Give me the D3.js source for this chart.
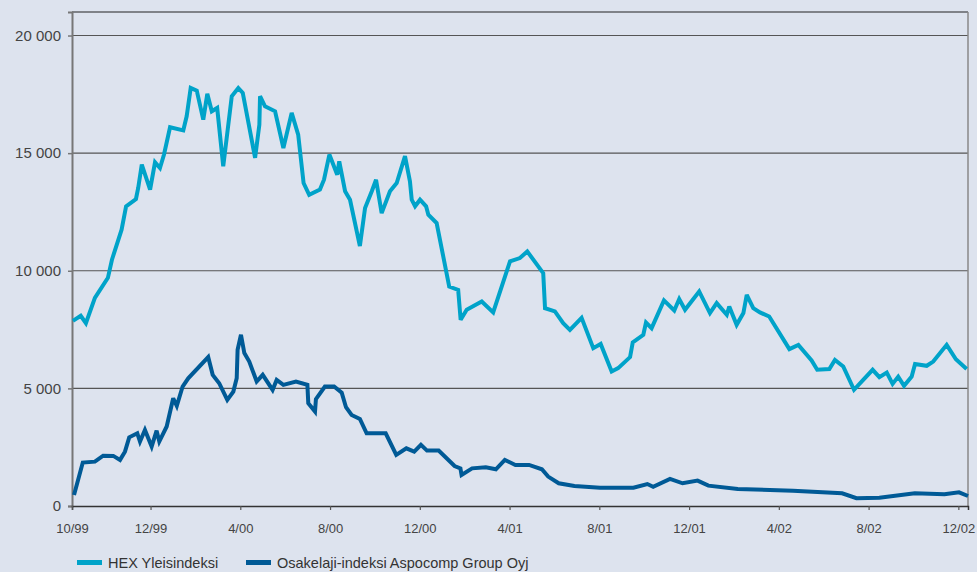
<!DOCTYPE html>
<html><head><meta charset="utf-8">
<script src="https://cdn.jsdelivr.net/npm/d3@7"></script>
<style>
html,body{margin:0;padding:0;background:#dde3ee;}
svg{display:block;font-family:"Liberation Sans",Arial,sans-serif;}
</style></head>
<body><svg id="c" width="977" height="572"></svg>
<script>
// x in axis units (10/99 = 0; each 4-month tick step = 4 units)
const tickLabels = ["10/99","12/99","4/00","8/00","12/00","4/01","8/01","12/01","4/02","8/02","12/02"];
const tickPos = [0,3.5,7.5,11.5,15.5,19.5,23.5,27.5,31.5,35.5,39.5];
const yTicks = [0,5000,10000,15000,20000];
const seriesNames = ["HEX Yleisindeksi","Osakelaji-indeksi Aspocomp Group Oyj"];

const hexT = [0.04,0.39,0.62,1.02,1.60,1.78,2.21,2.41,2.85,2.95,3.11,3.48,3.70,3.92,4.10,4.37,4.96,5.11,5.29,5.56,5.85,6.03,6.23,6.47,6.74,7.12,7.41,7.61,8.16,8.35,8.38,8.60,9.05,9.42,9.79,10.08,10.32,10.57,11.05,11.23,11.47,11.82,11.91,12.17,12.39,12.83,13.06,13.36,13.55,13.80,14.17,14.47,14.84,15.06,15.14,15.29,15.51,15.78,15.88,16.25,16.81,17.21,17.32,17.59,18.26,18.77,19.52,19.96,20.29,21.00,21.08,21.52,21.89,22.19,22.71,23.23,23.56,24.05,24.34,24.87,24.99,25.46,25.58,25.83,26.38,26.84,27.06,27.32,27.95,28.43,28.73,29.18,29.29,29.62,29.92,30.07,30.36,30.66,31.07,31.97,32.37,32.96,33.21,33.75,34.00,34.37,34.85,35.26,35.68,35.98,36.31,36.57,36.82,37.08,37.42,37.57,38.09,38.38,38.98,39.39,39.87];
const hexV = [7870,8085,7775,8850,9700,10470,11745,12740,13050,13520,14510,13450,14610,14370,14940,16100,15970,16565,17770,17660,16425,17520,16780,16920,14440,17420,17770,17560,14800,16210,17420,16990,16780,15220,16710,15790,13730,13230,13450,13870,14940,14085,14650,13380,13020,11050,12670,13380,13870,12450,13380,13730,14870,13800,13020,12740,13020,12740,12380,12030,9330,9190,7915,8340,8690,8230,10400,10540,10820,9900,8410,8270,7770,7490,8000,6710,6890,5720,5860,6330,6950,7280,7800,7560,8740,8310,8800,8340,9120,8200,8625,8130,8480,7700,8200,8980,8410,8230,8055,6670,6850,6185,5790,5820,6210,5930,4940,5360,5790,5475,5670,5190,5500,5110,5500,6040,5960,6140,6850,6240,5820];

const aspT = [0.09,0.48,1.02,1.39,1.84,2.14,2.36,2.55,2.91,3.03,3.25,3.55,3.77,3.89,4.22,4.51,4.67,4.93,5.18,6.07,6.27,6.56,6.92,7.19,7.34,7.38,7.53,7.68,7.90,8.23,8.50,8.94,9.12,9.42,9.98,10.49,10.53,10.83,10.87,11.27,11.68,12.02,12.21,12.46,12.83,13.13,13.98,14.45,14.90,15.25,15.55,15.82,16.34,17.05,17.31,17.36,17.83,18.44,18.89,19.29,19.76,20.37,20.94,21.22,21.69,22.39,23.53,25.02,25.64,25.90,26.65,27.21,27.88,28.36,29.67,32.13,34.32,34.96,35.98,37.56,38.88,39.53,39.93];
const aspV = [470,1845,1885,2140,2130,1960,2310,2920,3090,2740,3230,2525,3205,2740,3380,4580,4255,5080,5430,6330,5575,5220,4510,4865,5430,6640,7280,6500,6140,5290,5575,4935,5360,5150,5290,5150,4370,4015,4540,5080,5080,4820,4200,3870,3700,3090,3090,2170,2450,2310,2600,2355,2355,1700,1600,1320,1600,1645,1560,1960,1745,1745,1560,1250,965,850,780,780,935,820,1150,965,1080,865,720,650,540,330,355,540,495,580,425];

const W = 977, H = 572;
const m = {left:72, right:9, top:12, bottom:66};
const svg = d3.select("#c");
svg.append("rect").attr("width",W).attr("height",H).attr("fill","#dde3ee");

const x = d3.scaleLinear().domain([0,39.93]).range([m.left, W-m.right]);
const y = d3.scaleLinear().domain([0,21000]).range([H-m.bottom, m.top]);

// gridlines
svg.append("g").selectAll("line").data(yTicks.filter(d=>d>0)).join("line")
  .attr("x1",m.left).attr("x2",W-m.right)
  .attr("y1",d=>y(d)).attr("y2",d=>y(d))
  .attr("stroke","#555").attr("stroke-width",1.2);

// frame
svg.append("line").attr("x1",m.left).attr("x2",W-m.right).attr("y1",m.top).attr("y2",m.top)
  .attr("stroke","#222").attr("stroke-width",1.2);
svg.append("line").attr("x1",W-m.right).attr("x2",W-m.right).attr("y1",m.top).attr("y2",H-m.bottom)
  .attr("stroke","#888").attr("stroke-width",1.5);

// y axis
const yAxis = d3.axisLeft(y).tickValues(yTicks).tickSize(4).tickPadding(7)
  .tickFormat(d=>d3.format(",")(d).replace(/,/g," "));
const gy = svg.append("g").attr("transform",`translate(${m.left},0)`).call(yAxis);
gy.select(".domain").attr("stroke","#777").attr("stroke-width",2);
gy.selectAll(".tick line").attr("stroke","#777").attr("stroke-width",1.5);
gy.selectAll(".tick text").attr("fill","#444").style("font-size","15px").style("font-family","Liberation Sans, Arial, sans-serif");

// x axis
const xAxis = d3.axisBottom(x).tickValues(tickPos).tickSize(4).tickPadding(14)
  .tickFormat((d,i)=>tickLabels[i]);
const gx = svg.append("g").attr("transform",`translate(0,${H-m.bottom})`).call(xAxis);
gx.select(".domain").attr("stroke","#333").attr("stroke-width",1.5);
gx.selectAll(".tick line").attr("stroke","#555").attr("stroke-width",1.2);
gx.selectAll(".tick text").attr("fill","#444").style("font-size","13px").style("font-family","Liberation Sans, Arial, sans-serif");

const line = d3.line().x(d=>x(d[0])).y(d=>y(d[1]));
const hexData = hexT.map((t,i)=>[t,hexV[i]]);
const aspData = aspT.map((t,i)=>[t,aspV[i]]);
const colors = ["#00a3c9","#005a96"];

svg.append("path").datum(aspData).attr("d",line).attr("fill","none")
  .attr("stroke",colors[1]).attr("stroke-width",4).attr("stroke-linejoin","miter").attr("stroke-miterlimit",3);
svg.append("path").datum(hexData).attr("d",line).attr("fill","none")
  .attr("stroke",colors[0]).attr("stroke-width",4).attr("stroke-linejoin","miter").attr("stroke-miterlimit",3);

// legend
const lg = svg.append("g");
const legX = [77,246];
seriesNames.forEach((n,i)=>{
  lg.append("rect").attr("x",legX[i]).attr("y",560).attr("width",25).attr("height",5).attr("fill",colors[i]);
  lg.append("text").attr("x",legX[i]+31).attr("y",567.5).text(n)
    .attr("fill","#333").style("font-size","14.5px");
});
</script></body></html>
